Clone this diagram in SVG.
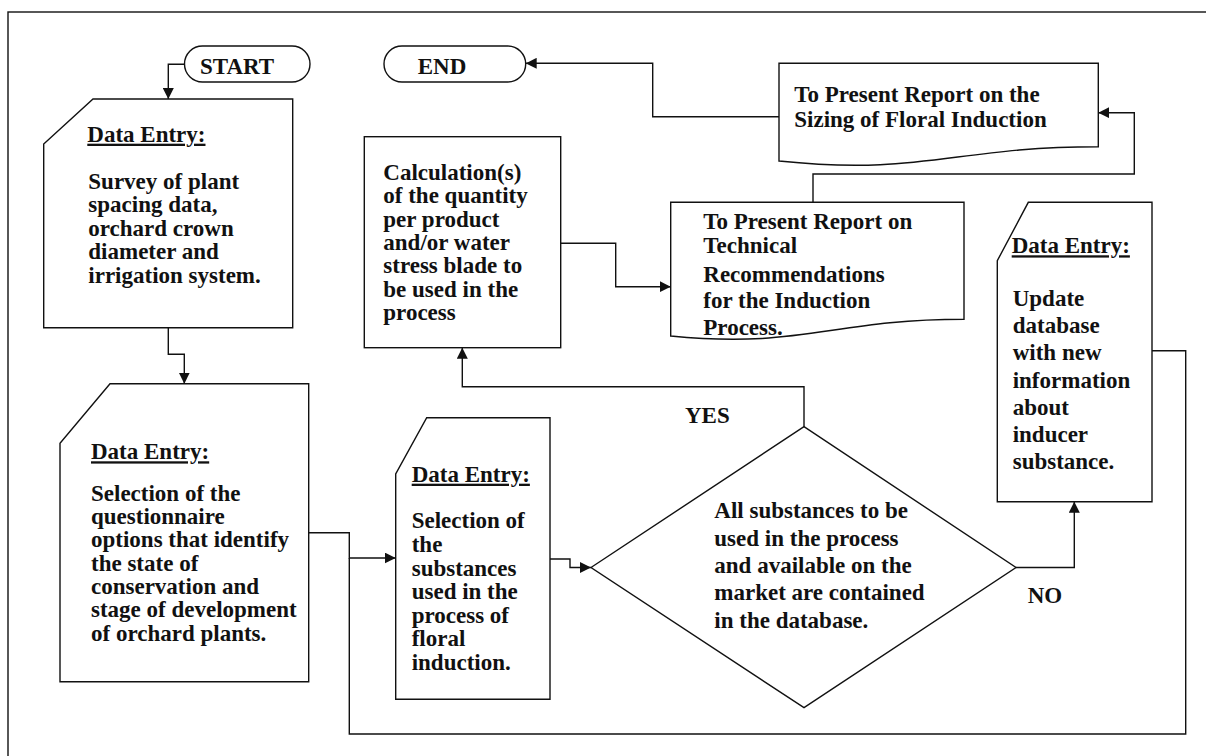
<svg xmlns="http://www.w3.org/2000/svg" width="1206" height="756" viewBox="0 0 1206 756">
<style>
.frame{fill:none;stroke:#111;stroke-width:1.4}
.shape{fill:#fff;stroke:#111;stroke-width:1.4}
.conn{fill:none;stroke:#111;stroke-width:1.4}
.t{font-family:"Liberation Serif","Times New Roman",serif;font-weight:bold;font-size:23px;fill:#111}
.h{text-decoration:underline}
</style>
<defs>
<marker id="ah" markerWidth="11" markerHeight="11" refX="11" refY="5.5" orient="auto" markerUnits="userSpaceOnUse">
<path d="M0,0 L11,5.5 L0,11 z" fill="#111"/>
</marker>
</defs>
<rect x="0" y="0" width="1206" height="756" fill="#fff"/>
<rect class="frame" x="8" y="12" width="1220" height="770"/>

<g id="start">
<rect class="shape" x="184.5" y="46" width="125.5" height="36" rx="18" ry="18"/>
<text class="t" x="200" y="74">START</text>
</g>
<g id="end">
<rect class="shape" x="384" y="46" width="141.7" height="36" rx="18" ry="18"/>
<text class="t" x="417.7" y="74">END</text>
</g>

<g id="data-entry-1">
<path class="shape" d="M93,99 H292.7 V327.7 H43.7 V144 Z"/>
<text class="t h" x="87.3" y="141.7">Data Entry:</text>
<text class="t"><tspan x="88.3" y="189">Survey of plant</tspan><tspan x="88.3" y="212.4">spacing  data,</tspan><tspan x="88.3" y="235.8">orchard  crown</tspan><tspan x="88.3" y="259.2">diameter and</tspan><tspan x="88.3" y="282.6">irrigation  system.</tspan></text>
</g>

<g id="data-entry-2">
<path class="shape" d="M110,383.7 H308.7 V681.7 H60 V443.3 Z"/>
<text class="t h" x="91" y="459.3">Data Entry:</text>
<text class="t"><tspan x="91" y="500.7">Selection of the</tspan><tspan x="91" y="524">questionnaire</tspan><tspan x="91" y="547.3">options  that identify</tspan><tspan x="91" y="570.6">the state of</tspan><tspan x="91" y="593.9">conservation and</tspan><tspan x="91" y="617.2">stage of development</tspan><tspan x="91" y="640.5">of orchard  plants.</tspan></text>
</g>

<g id="calculation">
<rect class="shape" x="364.3" y="136.7" width="196.4" height="211"/>
<text class="t"><tspan x="383.3" y="180">Calculation(s)</tspan><tspan x="383.3" y="203.3">of the  quantity</tspan><tspan x="383.3" y="226.6">per product</tspan><tspan x="383.3" y="249.9">and/or  water</tspan><tspan x="383.3" y="273.2">stress blade  to</tspan><tspan x="383.3" y="296.5">be used in the</tspan><tspan x="383.3" y="319.8">process</tspan></text>
</g>

<g id="report-technical">
<path class="shape" d="M670.7,202.3 H964 V319.3 C832,319.3 802,349 670.7,336 Z"/>
<text class="t"><tspan x="703.3" y="229.3">To Present Report on</tspan><tspan x="703.3" y="253.3">Technical</tspan><tspan x="703.3" y="281.7">Recommendations</tspan><tspan x="703.3" y="308.3">for the  Induction</tspan><tspan x="703.3" y="335">Process.</tspan></text>
</g>

<g id="report-sizing">
<path class="shape" d="M779,63.3 H1098.3 V146.7 C954,146.7 923,176 779,161 Z"/>
<text class="t"><tspan x="794.3" y="101.7">To Present Report on the</tspan><tspan x="794.3" y="127.3">Sizing  of Floral  Induction</tspan></text>
</g>

<g id="data-entry-3">
<path class="shape" d="M426.7,417.7 H550 V699.3 H395.7 V474 Z"/>
<text class="t h" x="411.7" y="481.7">Data Entry:</text>
<text class="t"><tspan x="411.7" y="528.3">Selection of</tspan><tspan x="411.7" y="551.9">the</tspan><tspan x="411.7" y="575.5">substances</tspan><tspan x="411.7" y="599.1">used in the</tspan><tspan x="411.7" y="622.7">process  of</tspan><tspan x="411.7" y="646.3">floral</tspan><tspan x="411.7" y="669.9">induction.</tspan></text>
</g>

<g id="decision">
<path class="shape" d="M591,567.5 L804,426.7 L1016,567.5 L804,707.7 Z"/>
<text class="t"><tspan x="714.3" y="518.3">All substances to be</tspan><tspan x="714.3" y="545.6">used in the  process</tspan><tspan x="714.3" y="572.9">and  available  on the</tspan><tspan x="714.3" y="600.2">market  are contained</tspan><tspan x="714.3" y="627.5">in the  database.</tspan></text>
</g>

<g id="data-entry-4">
<path class="shape" d="M1028.3,202.3 H1152 V501.7 H997.3 V260.7 Z"/>
<text class="t h" x="1011.7" y="253.3">Data Entry:</text>
<text class="t"><tspan x="1012.7" y="306">Update</tspan><tspan x="1012.7" y="333.2">database</tspan><tspan x="1012.7" y="360.4">with  new</tspan><tspan x="1012.7" y="387.6">information</tspan><tspan x="1012.7" y="414.8">about</tspan><tspan x="1012.7" y="442">inducer</tspan><tspan x="1012.7" y="469.2">substance.</tspan></text>
</g>

<g id="labels">
<text class="t" x="685" y="423.3">YES</text>
<text class="t" x="1027.7" y="603.3">NO</text>
</g>

<g id="connectors">
<polyline class="conn" points="184.5,64.3 168.3,64.3 168.3,99" marker-end="url(#ah)"/>
<polyline class="conn" points="168.3,327.7 168.3,354.3 184.3,354.3 184.3,383.7" marker-end="url(#ah)"/>
<polyline class="conn" points="308.7,532.7 349.3,532.7 349.3,558 395.7,558" marker-end="url(#ah)"/>
<polyline class="conn" points="1152,350.7 1185.7,350.7 1185.7,734 349.3,734 349.3,558"/>
<polyline class="conn" points="550,559 570,559 570,567.5 591,567.5" marker-end="url(#ah)"/>
<polyline class="conn" points="804,426.7 804,386.7 462.3,386.7 462.3,347.7" marker-end="url(#ah)"/>
<polyline class="conn" points="1016,567.5 1074.3,567.5 1074.3,501.7" marker-end="url(#ah)"/>
<polyline class="conn" points="560.7,243.3 615.7,243.3 615.7,286.7 670.7,286.7" marker-end="url(#ah)"/>
<polyline class="conn" points="813,202.3 813,174 1134.3,174 1134.3,112.7 1098.3,112.7" marker-end="url(#ah)"/>
<polyline class="conn" points="779,116.7 652.7,116.7 652.7,63.3 525.7,63.3" marker-end="url(#ah)"/>
</g>
</svg>
